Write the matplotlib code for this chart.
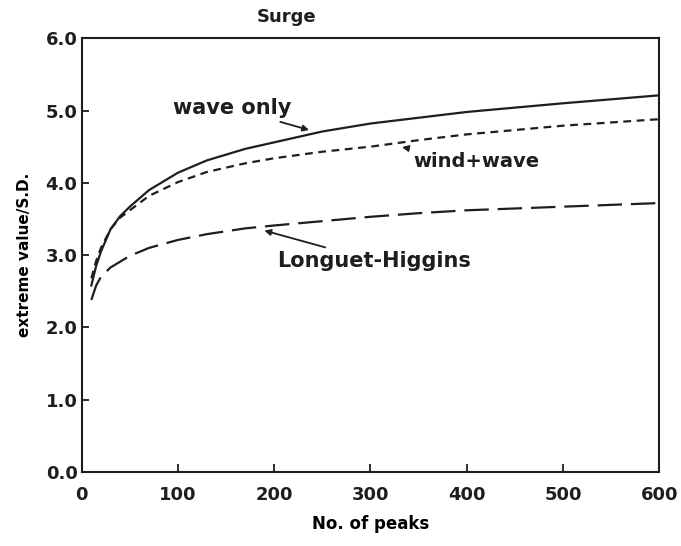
import matplotlib
matplotlib.use('Agg')
import matplotlib.pyplot as plt
import numpy as np

INK = '#1e1e1e'

# data
peaks = [10, 15, 20, 30, 40, 50, 70, 100, 130, 170, 200, 250, 300, 350, 400, 500, 600]
wave_only = [2.58, 2.85, 3.05, 3.36, 3.54, 3.67, 3.90, 4.14, 4.31, 4.47, 4.56,
             4.71, 4.82, 4.90, 4.98, 5.10, 5.21]
wind_wave = [2.68, 2.92, 3.10, 3.36, 3.52, 3.62, 3.82, 4.01, 4.15, 4.27, 4.34,
             4.43, 4.50, 4.59, 4.67, 4.79, 4.88]
longuet_higgins = [2.38, 2.58, 2.70, 2.83, 2.91, 2.99, 3.10, 3.21, 3.29, 3.37, 3.41,
                   3.47, 3.53, 3.58, 3.62, 3.67, 3.72]

x_ticks = [0, 100, 200, 300, 400, 500, 600]
y_ticks = [0.0, 1.0, 2.0, 3.0, 4.0, 5.0, 6.0]

plt.rcParams.update({
    'font.family': 'DejaVu Sans',
    'font.weight': 'bold',
    'text.color': INK,
    'axes.edgecolor': INK,
    'xtick.color': INK,
    'ytick.color': INK,
})

fig = plt.figure(figsize=(6.81, 5.46), dpi=100)
ax = fig.add_axes([0.120, 0.1355, 0.848, 0.7945])

ax.plot(peaks, wave_only, color=INK, lw=1.6, solid_joinstyle='round')
ax.plot(peaks, wind_wave, color=INK, lw=1.6, dashes=(3.5, 2.5))
ax.plot(peaks, longuet_higgins, color=INK, lw=1.6, dashes=(11, 4))

ax.set_xlim(0, 600)
ax.set_ylim(0, 6)
ax.set_xticks(x_ticks)
ax.set_yticks(y_ticks)
ax.set_xticklabels([str(v) for v in x_ticks], fontsize=13, fontweight='bold')
ax.set_yticklabels([f'{v:.1f}' for v in y_ticks], fontsize=13, fontweight='bold')
ax.tick_params(axis='x', direction='in', length=6, width=1.3, pad=10, top=False)
ax.tick_params(axis='y', direction='in', length=5, width=1.3, pad=3, right=False)
for s in ax.spines.values():
    s.set_linewidth(1.5)

ax.set_xlabel('No. of peaks', fontsize=12, fontweight='bold', labelpad=8)
ax.set_ylabel('extreme value/S.D.', fontsize=11, fontweight='bold', labelpad=10)
ax.text(213, 6.17, 'Surge', ha='center', va='bottom', fontsize=13, fontweight='bold')

arrow = dict(arrowstyle='-|>', color=INK, lw=1.3, mutation_scale=9)
ax.annotate('wave only', xy=(239, 4.72), xytext=(218, 5.03), ha='right', va='center',
            fontsize=15, fontweight='bold', arrowprops=arrow)
ax.annotate('wind+wave', xy=(330, 4.50), xytext=(345, 4.30), ha='left', va='center',
            fontsize=14, fontweight='bold', arrowprops=arrow)
ax.annotate('Longuet-Higgins', xy=(187, 3.35), xytext=(203, 2.92), ha='left', va='center',
            fontsize=15, fontweight='bold', arrowprops=arrow)

fig.savefig('out.png', dpi=100, facecolor='white')
plt.close()
